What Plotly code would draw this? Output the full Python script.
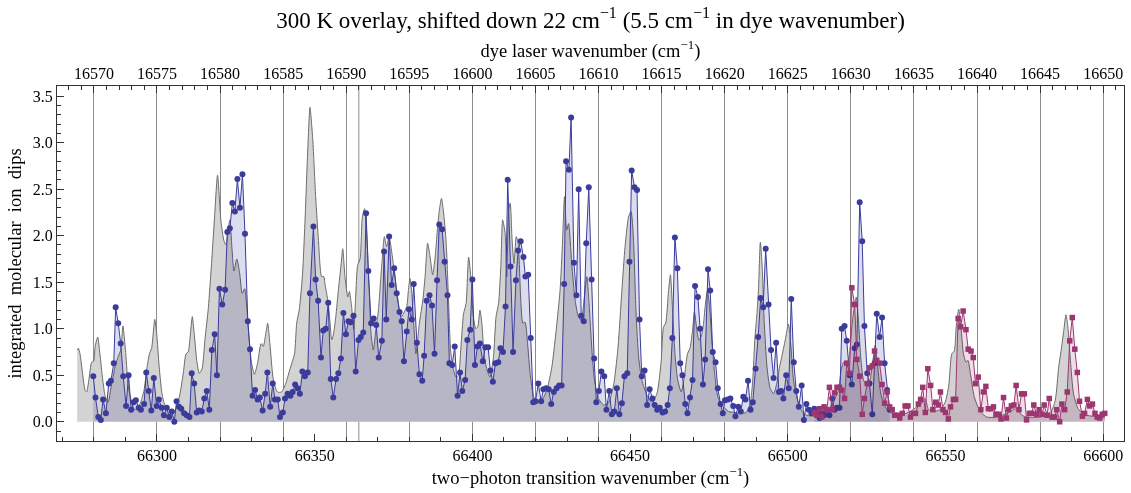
import plotly.graph_objects as go

# ---------------- data ----------------
# simulated 300 K spectrum (gray), two-photon wavenumber vs. intensity
sim_x = [66274.7, 66275.1, 66275.6, 66276.4, 66277.2, 66277.7, 66278.4, 66279.3, 66279.9, 66280.4,
         66281.2, 66281.9, 66282.8, 66283.6, 66284.5, 66285.5, 66286.7, 66287.7, 66288.5, 66289.2,
         66290.1, 66290.9, 66292.0, 66293.0, 66294.6, 66295.9, 66296.7, 66297.6, 66298.3, 66299.3,
         66299.9, 66300.7, 66301.6, 66302.5, 66303.9, 66305.2, 66306.2, 66307.3, 66308.4, 66309.2,
         66309.9, 66310.5, 66311.2, 66311.8, 66312.6, 66313.4, 66314.3, 66315.2, 66316.3, 66317.3,
         66318.2, 66319.2, 66320.3, 66321.2, 66321.9, 66322.5, 66323.1, 66323.8, 66324.4, 66325.3,
         66326.2, 66327.0, 66327.8, 66328.5, 66329.3, 66330.0, 66330.9, 66331.9, 66333.0, 66333.7,
         66334.5, 66335.1, 66335.8, 66336.9, 66338.2, 66339.5, 66340.8, 66342.2, 66343.6, 66344.3,
         66345.1, 66346.1, 66346.9, 66347.8, 66348.5, 66349.4, 66350.3, 66351.2, 66352.2, 66352.9,
         66353.3, 66353.8, 66354.3, 66354.9, 66355.4, 66355.9, 66356.7, 66357.5, 66358.4, 66358.9,
         66359.6, 66360.5, 66361.0, 66361.7, 66362.4, 66363.0, 66363.6, 66364.4, 66365.1, 66365.8,
         66366.5, 66367.2, 66367.9, 66368.6, 66369.4, 66370.2, 66371.3, 66372.1, 66372.8, 66373.6,
         66374.4, 66375.2, 66376.0, 66376.9, 66377.6, 66378.4, 66379.2, 66379.7, 66380.2, 66380.8,
         66381.5, 66382.1, 66383.2, 66384.3, 66385.0, 66385.8, 66386.6, 66387.4, 66388.2, 66388.9,
         66389.5, 66390.2, 66390.8, 66391.7, 66392.4, 66393.1, 66394.0, 66394.8, 66395.6, 66396.3,
         66397.2, 66398.0, 66398.8, 66399.6, 66400.3, 66401.1, 66401.7, 66402.4, 66403.0, 66403.7,
         66404.6, 66405.6, 66406.7, 66407.5, 66408.3, 66409.0, 66409.6, 66410.4, 66410.9, 66411.5,
         66412.0, 66412.6, 66413.2, 66413.9, 66414.5, 66415.3, 66416.0, 66416.7, 66417.5, 66418.3,
         66419.4, 66420.4, 66422.0, 66423.6, 66425.2, 66426.8, 66427.8, 66428.6, 66429.2, 66429.9,
         66430.5, 66431.5, 66432.6, 66433.6, 66434.5, 66435.5, 66436.3, 66437.0, 66437.9, 66438.7,
         66440.0, 66441.6, 66443.1, 66444.7, 66446.1, 66447.4, 66448.4, 66449.5, 66450.3, 66451.1,
         66451.8, 66452.7, 66453.7, 66455.3, 66456.9, 66458.5, 66459.8, 66460.6, 66461.3, 66462.2,
         66462.8, 66463.4, 66464.3, 66465.1, 66466.2, 66467.2, 66468.2, 66469.0, 66469.8, 66470.4,
         66471.2, 66471.8, 66472.5, 66473.3, 66473.8, 66474.5, 66475.2, 66475.9, 66476.8, 66477.8,
         66479.1, 66481.2, 66483.3, 66485.0, 66486.8, 66488.1, 66488.9, 66489.6, 66490.2, 66490.7,
         66491.3, 66491.9, 66492.5, 66493.4, 66494.4, 66495.5, 66496.5, 66497.4, 66498.1, 66499.2,
         66500.2, 66501.0, 66501.8, 66503.1, 66504.5, 66506.0, 66509.2, 66511.9, 66513.4, 66515.0,
         66516.1, 66516.9, 66517.7, 66518.7, 66519.6, 66520.3, 66521.1, 66521.7, 66522.4, 66523.2,
         66524.0, 66525.1, 66526.1, 66527.0, 66527.7, 66528.5, 66529.5, 66530.9, 66533.0, 66535.6,
         66538.8, 66540.9, 66542.5, 66543.6, 66544.6, 66546.2, 66548.3, 66549.9, 66551.0, 66552.0,
         66552.8, 66553.4, 66554.2, 66554.9, 66555.7, 66556.5, 66557.1, 66557.9, 66559.1, 66561.0,
         66563.1, 66566.3, 66569.5, 66571.6, 66572.6, 66574.2, 66575.8, 66580.1, 66583.2, 66584.8,
         66585.9, 66586.6, 66587.5, 66588.2, 66588.8, 66589.6, 66590.6, 66592.2, 66594.8, 66599.0,
         66600.5]
sim_y = [0.77, 0.79, 0.73, 0.52, 0.34, 0.32, 0.45, 0.64, 0.65, 0.81,
         0.91, 0.73, 0.45, 0.27, 0.21, 0.38, 0.59, 0.70, 0.77, 1.03,
         0.73, 0.38, 0.21, 0.13, 0.19, 0.34, 0.55, 0.73, 0.79, 1.10,
         0.95, 0.59, 0.30, 0.18, 0.13, 0.09, 0.16, 0.30, 0.54, 0.73,
         0.75, 0.91, 1.13, 0.95, 0.66, 0.52, 0.57, 0.88, 1.23, 1.70,
         2.17, 2.65, 2.15, 1.95, 1.90, 2.05, 2.17, 1.85, 1.62, 1.75,
         1.60, 1.38, 1.43, 1.22, 0.85, 0.63, 0.51, 0.63, 0.84, 0.81,
         0.95, 1.06, 0.84, 0.45, 0.32, 0.32, 0.41, 0.57, 0.73, 1.06,
         1.20, 1.56, 2.13, 2.92, 3.38, 3.03, 2.42, 1.95, 1.56, 1.56,
         1.47, 1.38, 1.27, 1.06, 0.88, 0.93, 1.13, 1.41, 1.70, 1.86,
         1.56, 1.34, 1.40, 1.24, 0.99, 1.34, 1.68, 1.75, 2.20, 2.29,
         2.02, 1.49, 0.93, 0.77, 0.99, 1.20, 1.70, 1.99, 1.88, 1.99,
         1.83, 1.63, 1.41, 1.20, 1.13, 1.18, 1.24, 1.41, 1.54, 1.38,
         1.00, 0.73, 1.06, 1.31, 1.56, 1.92, 1.77, 1.58, 1.77, 2.06,
         2.27, 2.40, 2.27, 1.92, 1.34, 0.77, 0.56, 0.48, 0.50, 0.77,
         1.16, 1.27, 1.77, 1.52, 1.13, 1.00, 1.02, 1.20, 1.06, 0.73,
         0.56, 0.48, 0.70, 1.13, 1.27, 1.66, 2.17, 2.02, 1.56, 2.27,
         2.35, 1.95, 1.70, 1.99, 1.92, 1.34, 1.06, 1.07, 0.84, 0.52,
         0.27, 0.21, 0.23, 0.34, 0.59, 1.06, 1.41, 1.95, 2.42, 2.06,
         2.13, 1.70, 1.30, 1.13, 1.09, 1.34, 1.56, 1.27, 0.77, 0.45,
         0.25, 0.18, 0.20, 0.38, 0.77, 1.41, 1.88, 2.20, 2.26, 1.95,
         1.24, 0.70, 0.45, 0.29, 0.21, 0.30, 0.63, 1.02, 1.06, 1.41,
         1.58, 1.24, 0.70, 0.45, 0.32, 0.48, 0.73, 0.79, 0.98, 1.18,
         0.98, 0.88, 0.91, 1.06, 1.24, 1.41, 1.24, 0.88, 0.52, 0.27,
         0.18, 0.11, 0.10, 0.09, 0.10, 0.20, 0.45, 0.91, 1.15, 1.41,
         1.93, 1.66, 1.09, 0.59, 0.36, 0.30, 0.41, 0.59, 0.70, 0.88,
         1.05, 0.81, 0.45, 0.23, 0.11, 0.07, 0.06, 0.09, 0.14, 0.25,
         0.34, 0.55, 0.64, 0.61, 0.73, 1.02, 1.24, 1.34, 1.09, 0.66,
         0.45, 0.38, 0.45, 0.66, 0.82, 0.59, 0.30, 0.16, 0.09, 0.07,
         0.11, 0.16, 0.20, 0.25, 0.13, 0.11, 0.13, 0.21, 0.38, 0.73,
         0.76, 1.02, 1.21, 1.02, 0.73, 0.64, 0.66, 0.52, 0.27, 0.11,
         0.05, 0.05, 0.09, 0.13, 0.14, 0.07, 0.05, 0.05, 0.09, 0.23,
         0.59, 0.75, 0.98, 1.15, 1.02, 0.66, 0.30, 0.13, 0.07, 0.05,
         0.04]

# measured ion dips, first scan (blue circles)
scan1_x = [66279.8, 66280.5, 66281.4, 66282.2, 66282.9, 66283.8, 66284.7, 66285.4, 66286.3, 66286.9,
           66287.7, 66288.5, 66289.3, 66290.2, 66291.0, 66291.8, 66292.6, 66293.3, 66294.2, 66294.9,
           66295.9, 66296.6, 66297.4, 66298.2, 66299.0, 66299.9, 66300.6, 66301.5, 66302.2, 66303.1,
           66303.9, 66304.7, 66305.5, 66306.2, 66307.0, 66307.7, 66308.6, 66309.4, 66310.3, 66311.0,
           66311.8, 66312.6, 66313.4, 66314.2, 66315.0, 66315.8, 66316.6, 66317.4, 66318.3, 66319.0,
           66319.8, 66320.7, 66321.6, 66322.3, 66323.1, 66323.9, 66324.7, 66325.5, 66326.3, 66327.1,
           66327.9, 66328.8, 66329.5, 66330.3, 66331.1, 66331.9, 66332.6, 66333.5, 66334.3, 66335.0,
           66335.9, 66336.7, 66337.4, 66338.3, 66339.0, 66339.9, 66340.6, 66341.4, 66342.3, 66343.0,
           66343.8, 66344.6, 66345.3, 66346.1, 66346.9, 66347.8, 66348.5, 66349.6, 66350.3, 66351.1,
           66352.0, 66352.7, 66353.5, 66354.3, 66355.1, 66355.9, 66356.8, 66357.5, 66358.3, 66359.1,
           66359.9, 66360.7, 66361.4, 66362.3, 66363.0, 66363.9, 66364.6, 66365.4, 66366.3, 66367.0,
           66367.9, 66368.7, 66369.5, 66370.3, 66371.3, 66372.0, 66372.7, 66373.6, 66374.4, 66375.2,
           66376.0, 66376.9, 66377.6, 66378.3, 66379.2, 66379.9, 66380.8, 66381.4, 66382.4, 66383.2,
           66384.1, 66384.7, 66385.5, 66386.4, 66387.2, 66388.0, 66388.8, 66389.5, 66390.4, 66391.2,
           66392.1, 66392.7, 66393.6, 66394.4, 66395.3, 66396.1, 66396.8, 66397.7, 66398.4, 66399.3,
           66400.0, 66400.8, 66401.6, 66402.4, 66403.3, 66404.1, 66405.0, 66405.7, 66406.5, 66407.3,
           66408.2, 66408.9, 66409.7, 66410.5, 66411.2, 66412.1, 66412.9, 66413.8, 66414.5, 66415.3,
           66416.2, 66416.8, 66417.7, 66418.5, 66419.3, 66420.0, 66420.9, 66421.8, 66422.5, 66423.4,
           66424.2, 66425.0, 66425.8, 66426.7, 66427.5, 66428.3, 66429.1, 66429.7, 66430.6, 66431.3,
           66432.2, 66433.0, 66433.7, 66434.5, 66435.3, 66436.1, 66436.9, 66437.8, 66438.6, 66439.3,
           66440.1, 66440.9, 66441.8, 66442.5, 66443.4, 66444.2, 66445.0, 66445.8, 66446.6, 66447.4,
           66448.2, 66449.1, 66449.8, 66450.5, 66451.4, 66452.2, 66453.0, 66453.7, 66454.6, 66455.4,
           66456.2, 66457.1, 66457.8, 66458.6, 66459.4, 66460.3, 66461.1, 66461.9, 66462.6, 66463.4,
           66464.2, 66465.0, 66465.9, 66466.6, 66467.5, 66468.2, 66469.0, 66469.8, 66470.6, 66471.5,
           66472.2, 66473.1, 66473.8, 66474.7, 66475.4, 66476.2, 66477.1, 66477.8, 66478.7, 66479.4,
           66480.1, 66481.0, 66481.8, 66482.7, 66483.4, 66484.3, 66485.1, 66485.9, 66486.6, 66487.4,
           66488.2, 66488.9, 66489.8, 66490.6, 66491.4, 66492.2, 66493.0, 66493.9, 66494.7, 66495.5,
           66496.3, 66497.2, 66497.9, 66498.6, 66499.5, 66500.3, 66501.1, 66501.9, 66502.7, 66503.5,
           66504.4, 66505.1, 66505.9, 66506.7, 66507.5, 66508.4, 66509.2, 66510.1, 66510.8, 66511.5,
           66512.4, 66513.2, 66514.1, 66514.8, 66515.6, 66516.4, 66517.1, 66518.0, 66518.7, 66519.6,
           66520.3, 66521.2, 66521.9, 66522.8, 66523.6, 66524.3, 66525.2, 66525.9, 66526.8, 66527.5,
           66528.2, 66529.1, 66529.9, 66530.7, 66531.5, 66532.3]
scan1_y = [0.49, 0.26, 0.05, 0.02, 0.24, 0.09, 0.41, 0.44, 0.63, 1.23,
           1.06, 0.84, 0.49, 0.17, 0.50, 0.13, 0.21, 0.23, 0.15, 0.13,
           0.19, 0.53, 0.33, 0.12, 0.47, 0.17, 0.24, 0.15, 0.07, 0.15,
           0.05, 0.11, 0.00, 0.22, 0.16, 0.14, 0.09, 0.07, 0.05, 0.52,
           0.41, 0.10, 0.12, 0.11, 0.25, 0.33, 0.13, 0.77, 0.94, 0.50,
           1.43, 1.26, 1.42, 2.04, 2.08, 2.35, 2.26, 2.61, 2.30, 2.66,
           2.02, 1.08, 0.78, 0.28, 0.34, 0.24, 0.26, 0.12, 0.30, 0.53,
           0.16, 0.41, 0.24, 0.24, 0.05, 0.10, 0.25, 0.30, 0.28, 0.32,
           0.40, 0.36, 0.30, 0.54, 0.49, 0.53, 1.38, 2.10, 1.53, 1.30,
           0.69, 0.98, 1.00, 1.28, 0.46, 0.26, 0.46, 0.52, 0.68, 1.17,
           0.94, 1.08, 1.07, 1.14, 0.54, 0.88, 0.91, 0.96, 2.24, 1.62,
           1.06, 1.11, 1.04, 0.69, 0.87, 1.83, 1.10, 1.99, 1.47, 1.65,
           1.38, 1.18, 1.08, 0.65, 0.97, 1.21, 1.10, 1.48, 0.85, 0.51,
           0.44, 0.71, 1.30, 1.36, 1.25, 0.73, 1.52, 2.12, 2.07, 1.72,
           1.36, 0.63, 0.61, 0.81, 0.28, 0.53, 0.33, 0.45, 0.88, 0.99,
           1.53, 0.61, 0.81, 0.84, 0.65, 0.80, 0.80, 0.55, 0.43, 0.63,
           0.64, 0.79, 0.75, 1.24, 2.60, 1.67, 0.75, 1.52, 1.84, 1.94,
           1.77, 1.56, 1.58, 0.90, 0.21, 0.22, 0.41, 0.22, 0.35, 0.36,
           0.35, 0.19, 0.32, 0.36, 0.39, 0.39, 1.48, 2.80, 2.71, 3.27,
           1.71, 1.36, 2.50, 1.14, 1.08, 1.92, 2.52, 1.53, 0.68, 0.21,
           0.33, 0.54, 0.49, 0.13, 0.33, 0.08, 0.11, 0.36, 0.08, 0.20,
           0.49, 0.52, 1.72, 2.70, 2.52, 2.49, 1.10, 0.49, 0.55, 0.18,
           0.35, 0.25, 0.18, 0.13, 0.15, 0.10, 0.11, 0.18, 0.36, 0.90,
           1.98, 1.65, 0.63, 0.50, 0.19, 0.09, 0.26, 0.45, 1.46, 1.34,
           1.00, 0.40, 0.67, 1.64, 1.41, 0.75, 0.64, 0.36, 0.19, 0.09,
           0.23, 0.24, 0.25, 0.17, 0.06, 0.16, 0.11, 0.27, 0.24, 0.44,
           0.13, 0.21, 0.57, 0.91, 1.33, 1.23, 1.86, 1.26, 0.77, 0.47,
           0.85, 0.32, 0.33, 0.25, 0.50, 0.36, 1.32, 0.64, 0.33, 0.16,
           0.39, 0.02, 0.19, 0.13, 0.09, 0.14, 0.09, 0.04, 0.09, 0.07,
           0.13, 0.07, 0.25, 0.13, 0.15, 0.15, 1.00, 1.03, 0.87, 0.50,
           0.40, 0.79, 0.83, 2.36, 1.94, 1.03, 0.52, 0.41, 0.08, 0.63,
           1.16, 0.91, 1.12, 0.63, 0.34, 0.13]

# measured ion dips, second scan (magenta squares)
scan2_x = [66508.4, 66509.2, 66510.1, 66510.8, 66511.5, 66512.4, 66513.2, 66514.1, 66514.8, 66515.6,
           66516.4, 66517.1, 66518.0, 66518.7, 66519.6, 66520.3, 66521.2, 66521.9, 66522.8, 66523.6,
           66524.3, 66525.2, 66525.9, 66526.8, 66527.5, 66528.2, 66529.1, 66529.9, 66530.7, 66531.5,
           66532.3, 66533.1, 66533.9, 66534.7, 66535.5, 66536.3, 66537.2, 66538.1, 66538.9, 66539.7,
           66540.5, 66541.4, 66542.1, 66542.8, 66543.6, 66544.4, 66545.3, 66546.0, 66546.9, 66547.7,
           66548.4, 66549.2, 66550.0, 66550.9, 66551.6, 66552.5, 66553.2, 66554.0, 66554.8, 66555.6,
           66556.5, 66557.2, 66558.1, 66558.8, 66559.5, 66560.4, 66561.2, 66562.0, 66562.8, 66563.6,
           66564.4, 66565.2, 66566.0, 66566.8, 66567.6, 66568.4, 66569.3, 66570.0, 66570.9, 66571.7,
           66572.4, 66573.3, 66574.1, 66575.0, 66575.7, 66576.6, 66577.3, 66578.0, 66578.9, 66579.7,
           66580.6, 66581.3, 66582.2, 66582.9, 66583.8, 66584.6, 66585.3, 66586.2, 66586.9, 66587.8,
           66588.6, 66589.4, 66590.2, 66591.0, 66591.8, 66592.5, 66593.4, 66594.1, 66595.0, 66595.7,
           66596.6, 66597.4, 66598.1, 66598.9, 66599.7, 66600.5]
scan2_y = [0.10, 0.07, 0.14, 0.05, 0.16, 0.13, 0.37, 0.13, 0.31, 0.37,
           0.37, 0.34, 0.25, 0.63, 0.52, 1.44, 1.26, 0.67, 0.49, 0.08,
           0.25, 0.41, 0.58, 0.60, 0.76, 0.66, 0.63, 0.40, 0.20, 0.32,
           0.16, 0.13, 0.07, 0.07, 0.04, 0.09, 0.17, 0.17, 0.05, 0.09,
           0.09, 0.19, 0.24, 0.37, 0.10, 0.57, 0.39, 0.13, 0.21, 0.18,
           0.32, 0.13, 0.10, 0.03, 0.16, 0.24, 0.24, 1.11, 1.02, 1.19,
           0.99, 0.78, 0.76, 0.69, 0.41, 0.48, 0.13, 0.32, 0.38, 0.14,
           0.14, 0.16, 0.08, 0.08, 0.03, 0.26, 0.04, 0.13, 0.17, 0.18,
           0.39, 0.13, 0.30, 0.30, 0.02, 0.09, 0.09, 0.18, 0.08, 0.13,
           0.08, 0.18, 0.07, 0.25, 0.05, 0.05, 0.13, 0.00, 0.19, 0.13,
           0.32, 0.87, 1.12, 0.78, 0.53, 0.22, 0.06, 0.09, 0.24, 0.17,
           0.19, 0.09, 0.05, 0.04, 0.08, 0.09]

# axes
x_range = [66268.3, 66606.6]          # two-photon wavenumber
y_range = [-0.207, 3.609]
dye_factor = 4                        # two-photon = 4 x dye wavenumber (as on the top axis)
extra_grid_dye = [16591]              # extra vertical guide line (dye wavenumber)

title_txt = "300 K overlay, shifted down 22 cm<sup>−1</sup> (5.5 cm<sup>−1</sup> in dye wavenumber)"
top_title = "dye laser wavenumber (cm<sup>−1</sup>)"
bottom_title = "two−photon transition wavenumber (cm<sup>−1</sup>)"
y_title = "integrated  molecular  ion  dips"

# ---------------- figure ----------------
FONT = "Liberation Serif, Times New Roman, serif"
GRAY_LINE = "#6b6b6b"
BLUE = "#3b3b9c"
MAG = "#9d3670"

fig = go.Figure()
fig.add_trace(go.Scatter(x=sim_x, y=sim_y, mode="lines", fill="tozeroy",
                         fillcolor="#d3d3d3", line=dict(color=GRAY_LINE, width=1, shape="spline", smoothing=0.6),
                         showlegend=False, hoverinfo="skip"))
fig.add_trace(go.Scatter(x=scan1_x, y=scan1_y, mode="lines+markers", fill="tozeroy",
                         fillcolor="#dcdcef", line=dict(color=BLUE, width=1),
                         marker=dict(color=BLUE, size=6, symbol="circle"),
                         showlegend=False))
fig.add_trace(go.Scatter(x=scan2_x, y=scan2_y, mode="lines+markers", fill="tozeroy",
                         fillcolor="#efdde7", line=dict(color=MAG, width=1),
                         marker=dict(color=MAG, size=5.5, symbol="square"),
                         showlegend=False))

tickfont = dict(family=FONT, size=16, color="black")
frame = "#333333"

fig.update_layout(
    width=1131, height=493,
    margin=dict(l=57, r=7, t=86, b=52),
    paper_bgcolor="white", plot_bgcolor="white",
    font=dict(family=FONT, color="black"),
    title=dict(text=title_txt, x=0.5, xref="paper", xanchor="center",
               y=1 - 20 / 493, yref="container", yanchor="middle",
               font=dict(family=FONT, size=23, color="black")),
    xaxis=dict(range=x_range, showgrid=False, zeroline=False, showline=True, linecolor=frame,
               linewidth=1, ticks="inside", ticklen=7, tickcolor=frame, tick0=66300, dtick=50,
               tickformat="d", tickfont=tickfont,
               minor=dict(ticks="inside", dtick=10, ticklen=4, tickcolor=frame),
               title=dict(text=bottom_title, font=dict(family=FONT, size=18.5), standoff=4)),
    xaxis2=dict(overlaying="x", side="top", range=[v / dye_factor for v in x_range],
                showgrid=True, gridcolor="#8c8c8c", gridwidth=1, zeroline=False,
                showline=True, linecolor=frame, linewidth=1, ticks="inside", ticklen=7,
                tickcolor=frame, tick0=16570, dtick=5, tickformat="d", tickfont=tickfont,
                minor=dict(ticks="inside", dtick=1, ticklen=4, tickcolor=frame),
                title=dict(text=top_title, font=dict(family=FONT, size=18.5), standoff=2)),
    yaxis=dict(range=y_range, showgrid=False, zeroline=False, showline=True, mirror=True,
               linecolor=frame, linewidth=1, ticks="inside", ticklen=7, tickcolor=frame,
               tick0=0, dtick=0.5, tickformat=".1f", tickfont=tickfont,
               minor=dict(ticks="inside", dtick=0.1, ticklen=4, tickcolor=frame),
               title=dict(text=y_title, font=dict(family=FONT, size=18.5), standoff=6)),
)
# an invisible trace so that the top (dye wavenumber) axis is drawn
fig.add_trace(go.Scatter(x=[v / dye_factor for v in x_range], y=[None, None], xaxis="x2",
                         mode="markers", showlegend=False, hoverinfo="skip"))
for d in extra_grid_dye:
    fig.add_shape(type="line", xref="x2", yref="paper", x0=d, x1=d, y0=0, y1=1,
                  line=dict(color="#8c8c8c", width=1), layer="below")

post = """
var gd = document.getElementById('{plot_id}');
function blendFills(){
  gd.querySelectorAll('.scatterlayer .js-fill').forEach(function(p){ p.style.mixBlendMode = 'multiply'; });
}
blendFills();
if (gd.on) { gd.on('plotly_afterplot', blendFills); }
"""
fig.write_html("out.html", post_script=post)
